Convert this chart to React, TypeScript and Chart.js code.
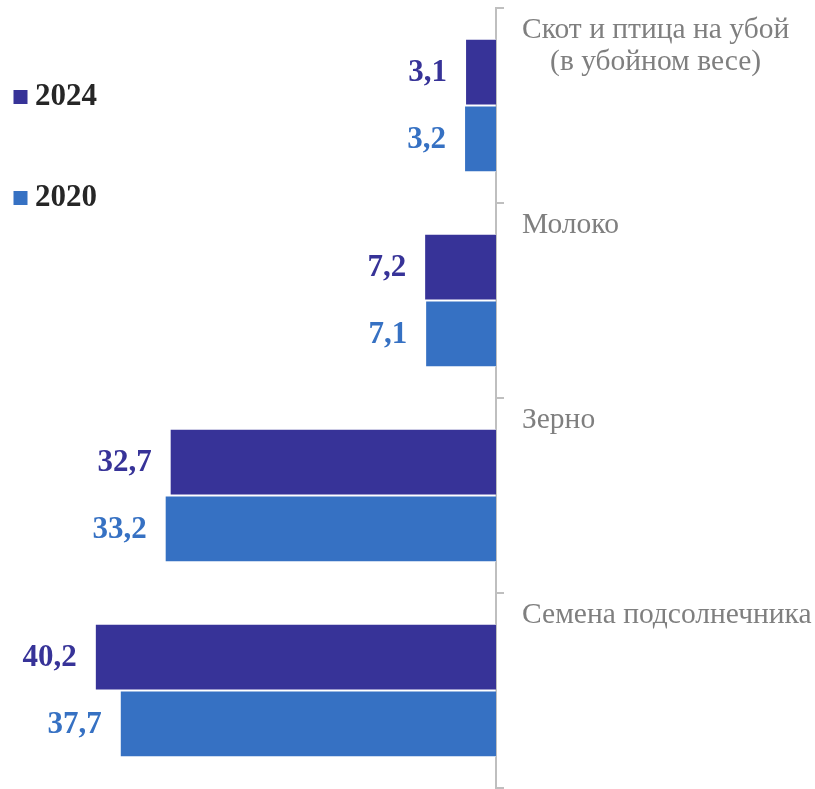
import React, { useEffect, useRef } from "react";
import { Chart, registerables } from "chart.js";

Chart.register(...registerables);

const categories: (string | string[])[] = [
  ["Скот и птица на убой", "(в убойном весе)"],
  "Молоко",
  "Зерно",
  "Семена подсолнечника",
];
const seriesNames = ["2024", "2020"];
const values2024 = [3.1, 7.2, 32.7, 40.2];
const values2020 = [3.2, 7.1, 33.2, 37.7];
const seriesColors = ["#373398", "#3671C3"];

const SERIF = "'Liberation Serif', 'Times New Roman', serif";

const fmt = (v: number) => v.toFixed(1).replace(".", ",");

const dataLabelPlugin = {
  id: "dataLabels",
  afterDatasetsDraw(chart: any) {
    const ctx = chart.ctx;
    ctx.save();
    ctx.font = `bold 31px ${SERIF}`;
    ctx.textAlign = "right";
    ctx.textBaseline = "middle";
    chart.data.datasets.forEach((ds: any, di: number) => {
      const meta = chart.getDatasetMeta(di);
      meta.data.forEach((bar: any, i: number) => {
        ctx.fillStyle = ds.backgroundColor;
        ctx.fillText(fmt(ds.data[i]), bar.x - 18, bar.y + 1);
      });
    });
    ctx.restore();
  },
};

const categoryLabelPlugin = {
  id: "categoryLabels",
  afterDraw(chart: any) {
    const ctx = chart.ctx;
    const y = chart.scales.y;
    const labels = chart.data.labels as (string | string[])[];
    const band = (y.bottom - y.top) / labels.length;
    const left = chart.chartArea.right + 26;
    ctx.save();
    ctx.font = `29.5px ${SERIF}`;
    ctx.fillStyle = "#7f7f7f";
    ctx.textBaseline = "alphabetic";
    ctx.textAlign = "center";
    labels.forEach((lab, i) => {
      const lines = Array.isArray(lab) ? lab : [lab];
      const maxW = Math.max(...lines.map((l) => ctx.measureText(l).width));
      const top = y.getPixelForValue(i) - band / 2;
      lines.forEach((l, li) => {
        ctx.fillText(l, left + maxW / 2, top + 30 + li * 32);
      });
    });
    ctx.restore();
  },
};

const legendPlugin = {
  id: "customLegend",
  afterDraw(chart: any) {
    const ctx = chart.ctx;
    ctx.save();
    ctx.font = `bold 31px ${SERIF}`;
    ctx.textBaseline = "middle";
    ctx.textAlign = "left";
    const ys = [97, 198];
    chart.data.datasets.forEach((ds: any, di: number) => {
      const cy = ys[di];
      ctx.fillStyle = ds.backgroundColor;
      ctx.fillRect(13.5, cy - 7, 14, 14);
      ctx.fillStyle = "#262626";
      ctx.fillText(ds.label, 35, cy);
    });
    ctx.restore();
  },
};

export default function App() {
  const ref = useRef<HTMLCanvasElement>(null);
  useEffect(() => {
    if (!ref.current) return;
    const chart = new Chart(ref.current, {
      type: "bar",
      data: {
        labels: categories,
        datasets: [
          {
            label: seriesNames[0],
            data: values2024,
            backgroundColor: seriesColors[0],
            borderColor: "#ffffff",
            borderWidth: 1,
          },
          {
            label: seriesNames[1],
            data: values2020,
            backgroundColor: seriesColors[1],
            borderColor: "#ffffff",
            borderWidth: 1,
          },
        ],
      },
      options: {
        indexAxis: "y",
        animation: false,
        responsive: true,
        maintainAspectRatio: false,
        datasets: {
          bar: { categoryPercentage: 0.685, barPercentage: 1 },
        },
        layout: { padding: { left: 17, top: 8, bottom: 1, right: 0 } },
        plugins: {
          legend: { display: false },
          tooltip: { enabled: false },
        },
        scales: {
          x: {
            type: "linear",
            reverse: true,
            min: 0,
            max: 48,
            display: false,
          },
          y: {
            position: "right",
            offset: true,
            grid: {
              offset: true,
              drawOnChartArea: false,
              drawTicks: true,
              tickLength: 8,
              color: "#bfbfbf",
              lineWidth: 2,
            },
            border: { display: true, color: "#bfbfbf", width: 2 },
            ticks: { display: false },
            afterFit: (scale: any) => {
              scale.width = 319;
            },
          },
        },
      },
      plugins: [dataLabelPlugin, categoryLabelPlugin, legendPlugin],
    });
    return () => chart.destroy();
  }, []);
  return (
    <div style={{ position: "fixed", left: 0, top: 0, width: 815, height: 789, background: "#ffffff" }}>
      <canvas ref={ref} />
    </div>
  );
}
